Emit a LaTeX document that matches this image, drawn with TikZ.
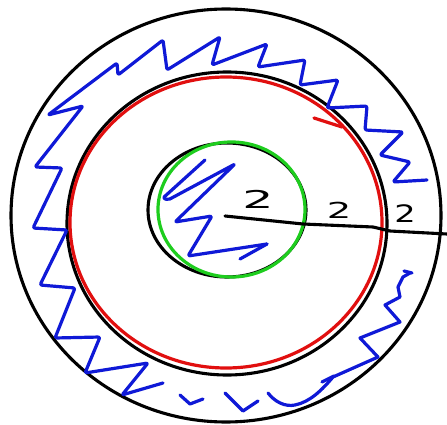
\documentclass[tikz,border=0pt]{standalone}
\usepackage{fontspec}
\setmainfont{DejaVu Sans}
\definecolor{penblue}{RGB}{15,25,215}
\definecolor{penred}{RGB}{225,15,15}
\definecolor{pengreen}{RGB}{30,205,30}
\tikzset{
  ink/.style={line width=3.1pt, line cap=round, line join=round},
  blackink/.style={ink, black},
  blueink/.style={ink, penblue, line width=3.2pt},
  redink/.style={ink, penred, line width=3.2pt},
  greenink/.style={ink, pengreen, line width=3.2pt},
  numlabel/.style={black, inner sep=0pt}
}
\begin{document}
\begin{tikzpicture}[x=1pt,y=-1pt]
\useasboundingbox (0,0) rectangle (447,425);
\fill[white] (0,0) rectangle (447,425);

% outer black circle
\draw[blackink] (226,215.5) ellipse [x radius=215, y radius=206.5];

% middle black circle
\draw[blackink] (227,223.5) ellipse [x radius=160, y radius=151.5];

% red circle
\draw[redink] (226,222.5) ellipse [x radius=156, y radius=145.5];
% red arrow barb
\draw[redink] (314,118) -- (342,127);

% inner black circle
\draw[blackink] (227,210) ellipse [x radius=79, y radius=67];

% green circle
\draw[greenink] (231.5,209.5) ellipse [x radius=73.5, y radius=67.5];

% radius line
\coordinate (c0) at (225,216);
\coordinate (c1) at (303,224);
\coordinate (c2) at (373,227);
\coordinate (c3) at (390,231);
\coordinate (c4) at (447,234);
\draw[blackink] (c0) -- (c1) -- (c2) -- (c3) -- (c4);

% labels
\node[numlabel, xscale=2.0, font=\fontsize{24.5}{24.5}\selectfont] (l1) at (258,199) {2};
\node[numlabel, xscale=1.75, font=\fontsize{22}{22}\selectfont] (l2) at (339,210) {2};
\node[numlabel, xscale=1.4, font=\fontsize{24}{24}\selectfont] (l3) at (405,214) {2};

% blue zigzag in the outer ring
\draw[blueink, rounded corners=2pt] (427,180) -- (393,182) -- (410,162) -- (380,155) -- (403,132)
 -- (365,130) -- (367,106) -- (327,108) -- (338,80) -- (300,85) -- (305,60) -- (258,67)
 -- (267,44) -- (212,65) -- (220,37) -- (167,70) -- (163,40) -- (118,75) -- (117,63)
 -- (48,115) -- (83,106) -- (35,167) -- (62,168) -- (33,228) -- (67,230) -- (40,285)
 -- (75,288) -- (55,338) -- (100,337) -- (85,373) -- (148,363) -- (122,395) -- (163,383);

% small v marks at the bottom
\draw[blueink] (180,395) -- (190,404) -- (203,399);
\draw[blueink] (225,393) -- (243,411) -- (258,401);

% bottom right stroke
\draw[blueink] (268,393) .. controls (275,402) and (285,407) .. (295,405)
 .. controls (310,402) and (322,390) .. (333,377)
 -- (378,357) -- (360,338) -- (400,322) -- (385,305) -- (400,297) -- (398,287) -- (403,277) -- (410,273);
\draw[blueink] (322,382) -- (334,376);
\draw[blueink] (404,271) -- (412,273);

% inner blue zigzag
\draw[blueink, rounded corners=2pt] (205,160) -- (163,198) -- (168,200) -- (235,164)
 -- (175,222) -- (212,216) -- (188,256) -- (267,244);
\draw[blueink] (240,259) -- (267,244);
\end{tikzpicture}
\end{document}
